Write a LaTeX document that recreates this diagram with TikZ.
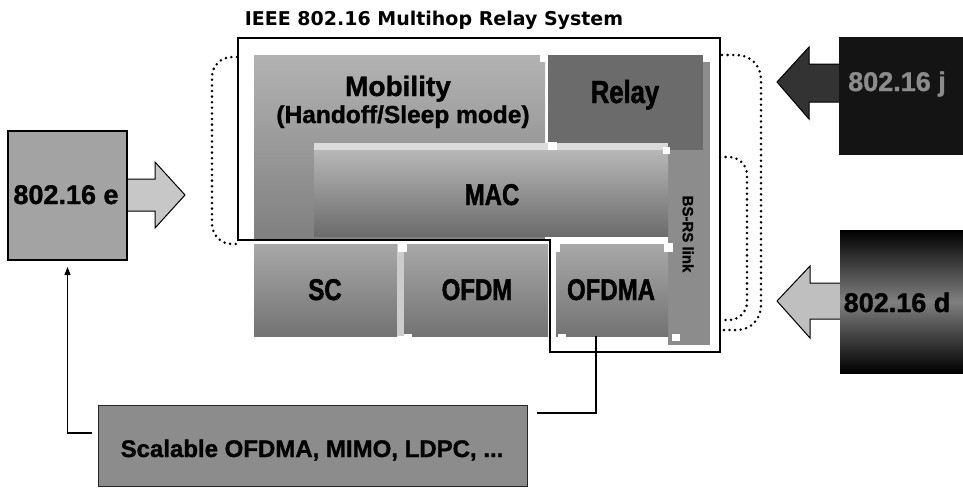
\documentclass[tikz,border=0pt]{standalone}
\usepackage{fontspec}
\setmainfont{Liberation Sans}[BoldFeatures={FakeBold=1.2}]
\newfontfamily\cfont[FakeStretch=0.8,BoldFeatures={FakeBold=1.4}]{Liberation Sans}
\newfontfamily\tfont{DejaVu Sans}
\usetikzlibrary{arrows.meta}
\newcommand\fsz[1]{\fontsize{#1}{#1}\selectfont}
\begin{document}
\begin{tikzpicture}[x=1pt,y=-1pt,
  box/.style={inner sep=0pt,outer sep=0pt,anchor=north west},
  txt/.style={inner sep=0pt,anchor=base,font=\bfseries},
  ctxt/.style={inner sep=0pt,anchor=base,font=\cfont\bfseries\fsz{30}},
  dots/.style={line width=2.8pt,line cap=round,dash pattern=on 0pt off 5.6pt},
  bigarrow/.style={draw=black,line width=1pt,line join=miter},
  wsq/.style={fill=white},
  conn/.style={draw=black,line width=1.1pt}]
\useasboundingbox (0,0) rectangle (963,490);
\fill[white] (0,0) rectangle (963,490);

% title
\node[txt,font=\tfont\bfseries\fsz{19}] (title) at (434,25) {IEEE 802.16 Multihop Relay System};

% 802.16 e
\draw[bigarrow,fill=black!22] (127,179)--(155,179)--(155,162)--(185,195)--(155,228)--(155,211)--(127,211);
\node[box,draw=black,line width=1.2pt,fill=black!36,minimum width=119pt,minimum height=129pt] (ebox) at (8,131) {};
\node[txt,font=\bfseries\fsz{27}] (etxt) at (66,204) {802.16 e};

% system blocks
\node[box,fill=black!45,minimum width=42pt,minimum height=283pt] (bsrs) at (668,62) {};
\node[box,top color=black!30,bottom color=black!50,minimum width=291pt,minimum height=185pt] (mob) at (254,55) {};
\node[box,fill=black!58,minimum width=155pt,minimum height=95pt] (relay) at (548,55) {};
\fill[black!14] (314,143) rectangle (668,150);
\node[box,top color=black!28,bottom color=black!58,minimum width=354pt,minimum height=86pt] (mac) at (314,150) {};
\node[box,top color=black!34,bottom color=black!55,minimum width=143pt,minimum height=92pt] (sc) at (254,244) {};
\fill[black!20] (397,244) rectangle (404,336);
\node[box,top color=black!34,bottom color=black!55,minimum width=144pt,minimum height=92pt] (ofdm) at (404,244) {};
\node[box,top color=black!34,bottom color=black!55,minimum width=112pt,minimum height=92pt] (ofdma) at (556,244) {};

% white corner marks
\fill[wsq] (540,53) rectangle (548,62);
\fill[wsq] (548,142) rectangle (557,150);
\fill[wsq] (663,147) rectangle (670,154);
\fill[wsq] (398,243) rectangle (407,252);
\fill[wsq] (552,243) rectangle (560,252);
\fill[wsq] (664,243) rectangle (673,252);
\fill[wsq] (404,334) rectangle (412,341);
\fill[wsq] (558,334) rectangle (566,341);
\fill[wsq] (672,334) rectangle (680,341);

% frame
\draw[line width=2pt,line join=miter] (238,38) -- (720,38) -- (720,352) -- (550,352) -- (550,240) -- (238,240) -- cycle;

% block texts
\node[txt,font=\bfseries\fsz{28}] (mobtxt) at (398,96) {Mobility};
\node[txt,font=\bfseries\fsz{24.5}] (hotxt) at (403,123) {(Handoff/Sleep mode)};
\node[ctxt,font=\cfont\bfseries\fsz{32}] (relaytxt) at (625,103) {Relay};
\node[ctxt] (mactxt) at (492,205) {MAC};
\node[ctxt] (sctxt) at (325,300) {SC};
\node[ctxt] (ofdmtxt) at (477,300) {OFDM};
\node[ctxt] (ofdmatxt) at (611,300) {OFDMA};
\node[inner sep=0pt,rotate=-90,font=\bfseries\fsz{15}] (bsrstxt) at (688,234) {BS-RS link};

% dotted brackets
\draw[dots,rounded corners=20pt] (237,57) -- (212,57) -- (212,244) -- (238,244);
\draw[dots,rounded corners=24pt] (722,55) -- (761,55) -- (761,330) -- (722,330);
\draw[dots,rounded corners=18pt] (720,157) -- (747,157) -- (747,320) -- (723,320);

% 802.16 j
\draw[bigarrow,fill=black!80] (839,64)--(809,64)--(809,47)--(777,82)--(809,119)--(809,102)--(839,102);
\node[box,fill=black!92,minimum width=124pt,minimum height=118pt] (jbox) at (839,37) {};
\node[txt,font=\bfseries\fsz{27},text=black!45] (jtxt) at (897,91) {802.16 j};

% 802.16 d
\draw[bigarrow,fill=black!25] (840,283)--(810,283)--(810,266)--(777,301)--(810,338)--(810,319)--(840,319);
\node[box,top color=black,bottom color=black,middle color=black!50,minimum width=123pt,minimum height=143pt] (dbox) at (840,230) {};
\node[txt,font=\bfseries\fsz{27}] (dtxt) at (897,312) {802.16 d};

% bottom box
\node[box,draw=black!85,line width=1pt,top color=black!45,middle color=black!25,bottom color=black!45,minimum width=429pt,minimum height=81pt] (scal) at (98,405) {};
\node[txt,font=\bfseries\fsz{24}] (scaltxt) at (312,457) {Scalable OFDMA, MIMO, LDPC, ...};

% connectors
\coordinate (ofdmaout) at (596,336);
\coordinate (scalin) at (537,413);
\draw[conn] (ofdmaout) |- (scalin);
\coordinate (scalout) at (92,433);
\draw[conn,-{Triangle[length=8pt,width=6pt]},shorten >=7pt] (scalout) -| (ebox.south);
\end{tikzpicture}
\end{document}
